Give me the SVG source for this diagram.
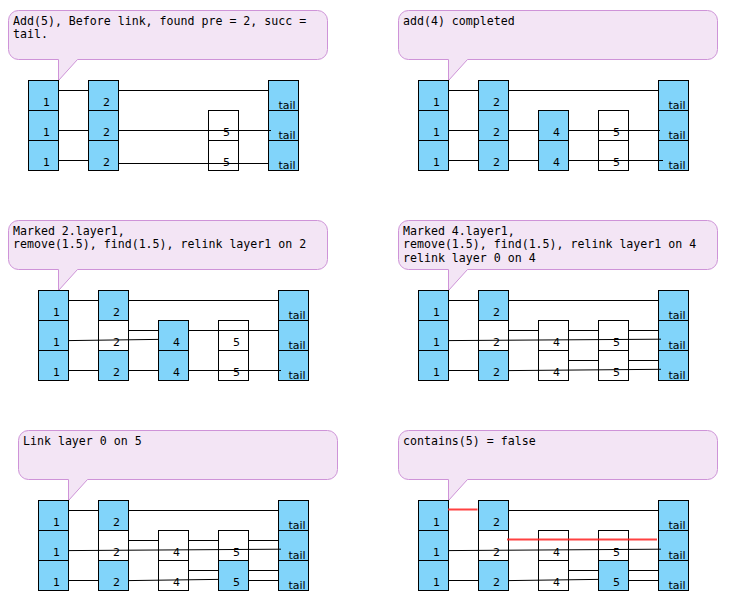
<svg xmlns="http://www.w3.org/2000/svg" width="747" height="596" viewBox="0 0 747 596">
<defs>
<style>
.bg{fill:#ffffff}
.co{fill:#f3e5f5;stroke:#ce93d8;stroke-width:1}
.ct{font-family:"DejaVu Sans Mono","Liberation Mono",monospace;font-size:11.6px;fill:#000}
.b{fill:#81d4fa;stroke:#000;stroke-width:1}
.w{fill:#ffffff;stroke:#000;stroke-width:1}
.t{font-family:"DejaVu Sans","Liberation Sans",sans-serif;font-size:11px;fill:#000;text-anchor:middle}
.l{stroke:#000;stroke-width:1;fill:none}
.r{stroke:#ff2020;stroke-width:2;stroke-opacity:0.85;fill:none}
</style>
<path id="callout" d="M10,0 H309 A10,10 0 0 1 319,10 V39 A10,10 0 0 1 309,49 H69 L50,70 V49 H10 A10,10 0 0 1 0,39 V10 A10,10 0 0 1 10,0 Z"/>
</defs>
<rect class="bg" x="0" y="0" width="747" height="596"/>

<!-- ================= Panel 1 ================= -->
<g id="p1-callout" transform="translate(8.5,10.5)">
<use href="#callout" class="co"/>
<text class="ct" x="4.5" y="14.5">Add(5), Before link, found pre = 2, succ =</text>
<text class="ct" x="4.5" y="27.8">tail.</text>
</g>
<g transform="translate(28,80)">
<g id="p1-n1"><rect class="b" x="0.5" y="0.5" width="30" height="30"/><rect class="b" x="0.5" y="30.5" width="30" height="30"/><rect class="b" x="0.5" y="60.5" width="30" height="30"/><text class="t" x="18.5" y="26">1</text><text class="t" x="18.5" y="56">1</text><text class="t" x="18.5" y="86">1</text></g>
<g id="p1-n2"><rect class="b" x="60.5" y="0.5" width="30" height="30"/><rect class="b" x="60.5" y="30.5" width="30" height="30"/><rect class="b" x="60.5" y="60.5" width="30" height="30"/><text class="t" x="78.5" y="26">2</text><text class="t" x="78.5" y="56">2</text><text class="t" x="78.5" y="86">2</text></g>
<g id="p1-n5"><rect class="w" x="180.5" y="30.5" width="30" height="30"/><rect class="w" x="180.5" y="60.5" width="30" height="30"/><text class="t" x="198.5" y="56">5</text><text class="t" x="198.5" y="86">5</text></g>
<g id="p1-tail"><rect class="b" x="240.5" y="0.5" width="30" height="30"/><rect class="b" x="240.5" y="30.5" width="30" height="30"/><rect class="b" x="240.5" y="60.5" width="30" height="30"/><text class="t" x="259" y="29">tail</text><text class="t" x="259" y="59">tail</text><text class="t" x="259" y="89">tail</text></g>
<g id="p1-links">
<line class="l" x1="30" y1="10.5" x2="60" y2="10.5"/><line class="l" x1="90" y1="10.5" x2="240" y2="10.5"/>
<line class="l" x1="30" y1="50.5" x2="60" y2="50.5"/><line class="l" x1="90" y1="50.5" x2="243" y2="50.5"/>
<line class="l" x1="30" y1="80.5" x2="60" y2="80.5"/><line class="l" x1="90" y1="83.5" x2="240" y2="83.5"/>
</g>
</g>

<!-- ================= Panel 2 ================= -->
<g id="p2-callout" transform="translate(398.5,10.5)">
<use href="#callout" class="co"/>
<text class="ct" x="4.5" y="14.5">add(4) completed</text>
</g>
<g transform="translate(418,80)">
<g id="p2-n1"><rect class="b" x="0.5" y="0.5" width="30" height="30"/><rect class="b" x="0.5" y="30.5" width="30" height="30"/><rect class="b" x="0.5" y="60.5" width="30" height="30"/><text class="t" x="18.5" y="26">1</text><text class="t" x="18.5" y="56">1</text><text class="t" x="18.5" y="86">1</text></g>
<g id="p2-n2"><rect class="b" x="60.5" y="0.5" width="30" height="30"/><rect class="b" x="60.5" y="30.5" width="30" height="30"/><rect class="b" x="60.5" y="60.5" width="30" height="30"/><text class="t" x="78.5" y="26">2</text><text class="t" x="78.5" y="56">2</text><text class="t" x="78.5" y="86">2</text></g>
<g id="p2-n4"><rect class="b" x="120.5" y="30.5" width="30" height="30"/><rect class="b" x="120.5" y="60.5" width="30" height="30"/><text class="t" x="138.5" y="56">4</text><text class="t" x="138.5" y="86">4</text></g>
<g id="p2-n5"><rect class="w" x="180.5" y="30.5" width="30" height="30"/><rect class="w" x="180.5" y="60.5" width="30" height="30"/><text class="t" x="198.5" y="56">5</text><text class="t" x="198.5" y="86">5</text></g>
<g id="p2-tail"><rect class="b" x="240.5" y="0.5" width="30" height="30"/><rect class="b" x="240.5" y="30.5" width="30" height="30"/><rect class="b" x="240.5" y="60.5" width="30" height="30"/><text class="t" x="259" y="29">tail</text><text class="t" x="259" y="59">tail</text><text class="t" x="259" y="89">tail</text></g>
<g id="p2-links">
<line class="l" x1="30" y1="10.5" x2="60" y2="10.5"/><line class="l" x1="90" y1="10.5" x2="241" y2="10.5"/>
<line class="l" x1="30" y1="50.5" x2="60" y2="50.5"/><line class="l" x1="90" y1="50.5" x2="120" y2="50.5"/><line class="l" x1="150" y1="50.5" x2="242" y2="50.5"/>
<line class="l" x1="30" y1="80.5" x2="60" y2="80.5"/><line class="l" x1="90" y1="80.5" x2="120" y2="80.5"/><line class="l" x1="150" y1="80.5" x2="245" y2="80.5"/>
</g>
</g>

<!-- ================= Panel 3 ================= -->
<g id="p3-callout" transform="translate(8.5,220.5)">
<use href="#callout" class="co"/>
<text class="ct" x="4.5" y="14.5">Marked 2.layer1,</text>
<text class="ct" x="4.5" y="27.8">remove(1.5), find(1.5), relink layer1 on 2</text>
</g>
<g transform="translate(38,290)">
<g id="p3-n1"><rect class="b" x="0.5" y="0.5" width="30" height="30"/><rect class="b" x="0.5" y="30.5" width="30" height="30"/><rect class="b" x="0.5" y="60.5" width="30" height="30"/><text class="t" x="18.5" y="26">1</text><text class="t" x="18.5" y="56">1</text><text class="t" x="18.5" y="86">1</text></g>
<g id="p3-n2"><rect class="b" x="60.5" y="0.5" width="30" height="30"/><rect class="w" x="60.5" y="30.5" width="30" height="30"/><rect class="b" x="60.5" y="60.5" width="30" height="30"/><text class="t" x="78.5" y="26">2</text><text class="t" x="78.5" y="56">2</text><text class="t" x="78.5" y="86">2</text></g>
<g id="p3-n4"><rect class="b" x="120.5" y="30.5" width="30" height="30"/><rect class="b" x="120.5" y="60.5" width="30" height="30"/><text class="t" x="138.5" y="56">4</text><text class="t" x="138.5" y="86">4</text></g>
<g id="p3-n5"><rect class="w" x="180.5" y="30.5" width="30" height="30"/><rect class="w" x="180.5" y="60.5" width="30" height="30"/><text class="t" x="198.5" y="56">5</text><text class="t" x="198.5" y="86">5</text></g>
<g id="p3-tail"><rect class="b" x="240.5" y="0.5" width="30" height="30"/><rect class="b" x="240.5" y="30.5" width="30" height="30"/><rect class="b" x="240.5" y="60.5" width="30" height="30"/><text class="t" x="259" y="29">tail</text><text class="t" x="259" y="59">tail</text><text class="t" x="259" y="89">tail</text></g>
<g id="p3-links">
<line class="l" x1="30" y1="10.5" x2="60" y2="10.5"/><line class="l" x1="90" y1="10.5" x2="240" y2="10.5"/>
<line class="l" x1="90" y1="40.5" x2="120" y2="40.5"/><line class="l" x1="150" y1="40.5" x2="240" y2="40.5"/>
<line class="l" x1="30" y1="50.6" x2="120" y2="49.4"/>
<line class="l" x1="30" y1="80.5" x2="60" y2="80.5"/><line class="l" x1="90" y1="80.5" x2="120" y2="80.5"/><line class="l" x1="150" y1="80.5" x2="243" y2="80.5"/>
</g>
</g>

<!-- ================= Panel 4 ================= -->
<g id="p4-callout" transform="translate(398.5,220.5)">
<use href="#callout" class="co"/>
<text class="ct" x="4.5" y="14.5">Marked 4.layer1,</text>
<text class="ct" x="4.5" y="27.8">remove(1.5), find(1.5), relink layer1 on 4</text>
<text class="ct" x="4.5" y="41.1">relink layer 0 on 4</text>
</g>
<g transform="translate(418,290)">
<g id="p4-n1"><rect class="b" x="0.5" y="0.5" width="30" height="30"/><rect class="b" x="0.5" y="30.5" width="30" height="30"/><rect class="b" x="0.5" y="60.5" width="30" height="30"/><text class="t" x="18.5" y="26">1</text><text class="t" x="18.5" y="56">1</text><text class="t" x="18.5" y="86">1</text></g>
<g id="p4-n2"><rect class="b" x="60.5" y="0.5" width="30" height="30"/><rect class="w" x="60.5" y="30.5" width="30" height="30"/><rect class="b" x="60.5" y="60.5" width="30" height="30"/><text class="t" x="78.5" y="26">2</text><text class="t" x="78.5" y="56">2</text><text class="t" x="78.5" y="86">2</text></g>
<g id="p4-n4"><rect class="w" x="120.5" y="30.5" width="30" height="30"/><rect class="w" x="120.5" y="60.5" width="30" height="30"/><text class="t" x="138.5" y="56">4</text><text class="t" x="138.5" y="86">4</text></g>
<g id="p4-n5"><rect class="w" x="180.5" y="30.5" width="30" height="30"/><rect class="w" x="180.5" y="60.5" width="30" height="30"/><text class="t" x="198.5" y="56">5</text><text class="t" x="198.5" y="86">5</text></g>
<g id="p4-tail"><rect class="b" x="240.5" y="0.5" width="30" height="30"/><rect class="b" x="240.5" y="30.5" width="30" height="30"/><rect class="b" x="240.5" y="60.5" width="30" height="30"/><text class="t" x="259" y="29">tail</text><text class="t" x="259" y="59">tail</text><text class="t" x="259" y="89">tail</text></g>
<g id="p4-links">
<line class="l" x1="30" y1="10.5" x2="60" y2="10.5"/><line class="l" x1="90" y1="10.5" x2="240" y2="10.5"/>
<line class="l" x1="90" y1="40.5" x2="120" y2="40.5"/><line class="l" x1="150" y1="40.5" x2="180" y2="40.5"/><line class="l" x1="210" y1="40.5" x2="240" y2="40.5"/>
<line class="l" x1="30" y1="50.6" x2="243" y2="49.2"/>
<line class="l" x1="150" y1="70.5" x2="180" y2="70.5"/><line class="l" x1="210" y1="70.5" x2="240" y2="70.5"/>
<line class="l" x1="30" y1="80.5" x2="60" y2="80.5"/><line class="l" x1="90" y1="80.6" x2="243" y2="79.3"/>
</g>
</g>

<!-- ================= Panel 5 ================= -->
<g id="p5-callout" transform="translate(18.5,430.5)">
<use href="#callout" class="co"/>
<text class="ct" x="4.5" y="14.5">Link layer 0 on 5</text>
</g>
<g transform="translate(38,500)">
<g id="p5-n1"><rect class="b" x="0.5" y="0.5" width="30" height="30"/><rect class="b" x="0.5" y="30.5" width="30" height="30"/><rect class="b" x="0.5" y="60.5" width="30" height="30"/><text class="t" x="18.5" y="26">1</text><text class="t" x="18.5" y="56">1</text><text class="t" x="18.5" y="86">1</text></g>
<g id="p5-n2"><rect class="b" x="60.5" y="0.5" width="30" height="30"/><rect class="w" x="60.5" y="30.5" width="30" height="30"/><rect class="b" x="60.5" y="60.5" width="30" height="30"/><text class="t" x="78.5" y="26">2</text><text class="t" x="78.5" y="56">2</text><text class="t" x="78.5" y="86">2</text></g>
<g id="p5-n4"><rect class="w" x="120.5" y="30.5" width="30" height="30"/><rect class="w" x="120.5" y="60.5" width="30" height="30"/><text class="t" x="138.5" y="56">4</text><text class="t" x="138.5" y="86">4</text></g>
<g id="p5-n5"><rect class="w" x="180.5" y="30.5" width="30" height="30"/><rect class="b" x="180.5" y="60.5" width="30" height="30"/><text class="t" x="198.5" y="56">5</text><text class="t" x="198.5" y="86">5</text></g>
<g id="p5-tail"><rect class="b" x="240.5" y="0.5" width="30" height="30"/><rect class="b" x="240.5" y="30.5" width="30" height="30"/><rect class="b" x="240.5" y="60.5" width="30" height="30"/><text class="t" x="259" y="29">tail</text><text class="t" x="259" y="59">tail</text><text class="t" x="259" y="89">tail</text></g>
<g id="p5-links">
<line class="l" x1="30" y1="10.5" x2="60" y2="10.5"/><line class="l" x1="90" y1="10.5" x2="240" y2="10.5"/>
<line class="l" x1="90" y1="40.5" x2="120" y2="40.5"/><line class="l" x1="150" y1="40.5" x2="180" y2="40.5"/><line class="l" x1="210" y1="40.5" x2="240" y2="40.5"/>
<line class="l" x1="30" y1="50.6" x2="243" y2="49.2"/>
<line class="l" x1="150" y1="70.5" x2="180" y2="70.5"/><line class="l" x1="210" y1="70.5" x2="240" y2="70.5"/>
<line class="l" x1="30" y1="80.5" x2="60" y2="80.5"/><line class="l" x1="90" y1="80.6" x2="180" y2="79.4"/><line class="l" x1="210" y1="80.5" x2="240" y2="80.5"/>
</g>
</g>

<!-- ================= Panel 6 ================= -->
<g id="p6-callout" transform="translate(398.5,430.5)">
<use href="#callout" class="co"/>
<text class="ct" x="4.5" y="14.5">contains(5) = false</text>
</g>
<g transform="translate(418,500)">
<g id="p6-n1"><rect class="b" x="0.5" y="0.5" width="30" height="30"/><rect class="b" x="0.5" y="30.5" width="30" height="30"/><rect class="b" x="0.5" y="60.5" width="30" height="30"/><text class="t" x="18.5" y="26">1</text><text class="t" x="18.5" y="56">1</text><text class="t" x="18.5" y="86">1</text></g>
<g id="p6-n2"><rect class="b" x="60.5" y="0.5" width="30" height="30"/><rect class="w" x="60.5" y="30.5" width="30" height="30"/><rect class="b" x="60.5" y="60.5" width="30" height="30"/><text class="t" x="78.5" y="26">2</text><text class="t" x="78.5" y="56">2</text><text class="t" x="78.5" y="86">2</text></g>
<g id="p6-n4"><rect class="w" x="120.5" y="30.5" width="30" height="30"/><rect class="w" x="120.5" y="60.5" width="30" height="30"/><text class="t" x="138.5" y="56">4</text><text class="t" x="138.5" y="86">4</text></g>
<g id="p6-n5"><rect class="w" x="180.5" y="30.5" width="30" height="30"/><rect class="b" x="180.5" y="60.5" width="30" height="30"/><text class="t" x="198.5" y="56">5</text><text class="t" x="198.5" y="86">5</text></g>
<g id="p6-tail"><rect class="b" x="240.5" y="0.5" width="30" height="30"/><rect class="b" x="240.5" y="30.5" width="30" height="30"/><rect class="b" x="240.5" y="60.5" width="30" height="30"/><text class="t" x="259" y="29">tail</text><text class="t" x="259" y="59">tail</text><text class="t" x="259" y="89">tail</text></g>
<g id="p6-links">
<line class="l" x1="90" y1="10.5" x2="240" y2="10.5"/>
<line class="l" x1="30" y1="50.6" x2="243" y2="49.2"/>
<line class="l" x1="150" y1="70.5" x2="180" y2="70.5"/><line class="l" x1="210" y1="70.5" x2="240" y2="70.5"/>
<line class="l" x1="30" y1="80.5" x2="60" y2="80.5"/><line class="l" x1="90" y1="80.6" x2="180" y2="79.4"/><line class="l" x1="210" y1="80.5" x2="240" y2="80.5"/>
<line class="r" x1="30" y1="9.5" x2="59.5" y2="9.5"/>
<line class="r" x1="89" y1="39.5" x2="239" y2="39.5"/>
</g>
</g>
</svg>
